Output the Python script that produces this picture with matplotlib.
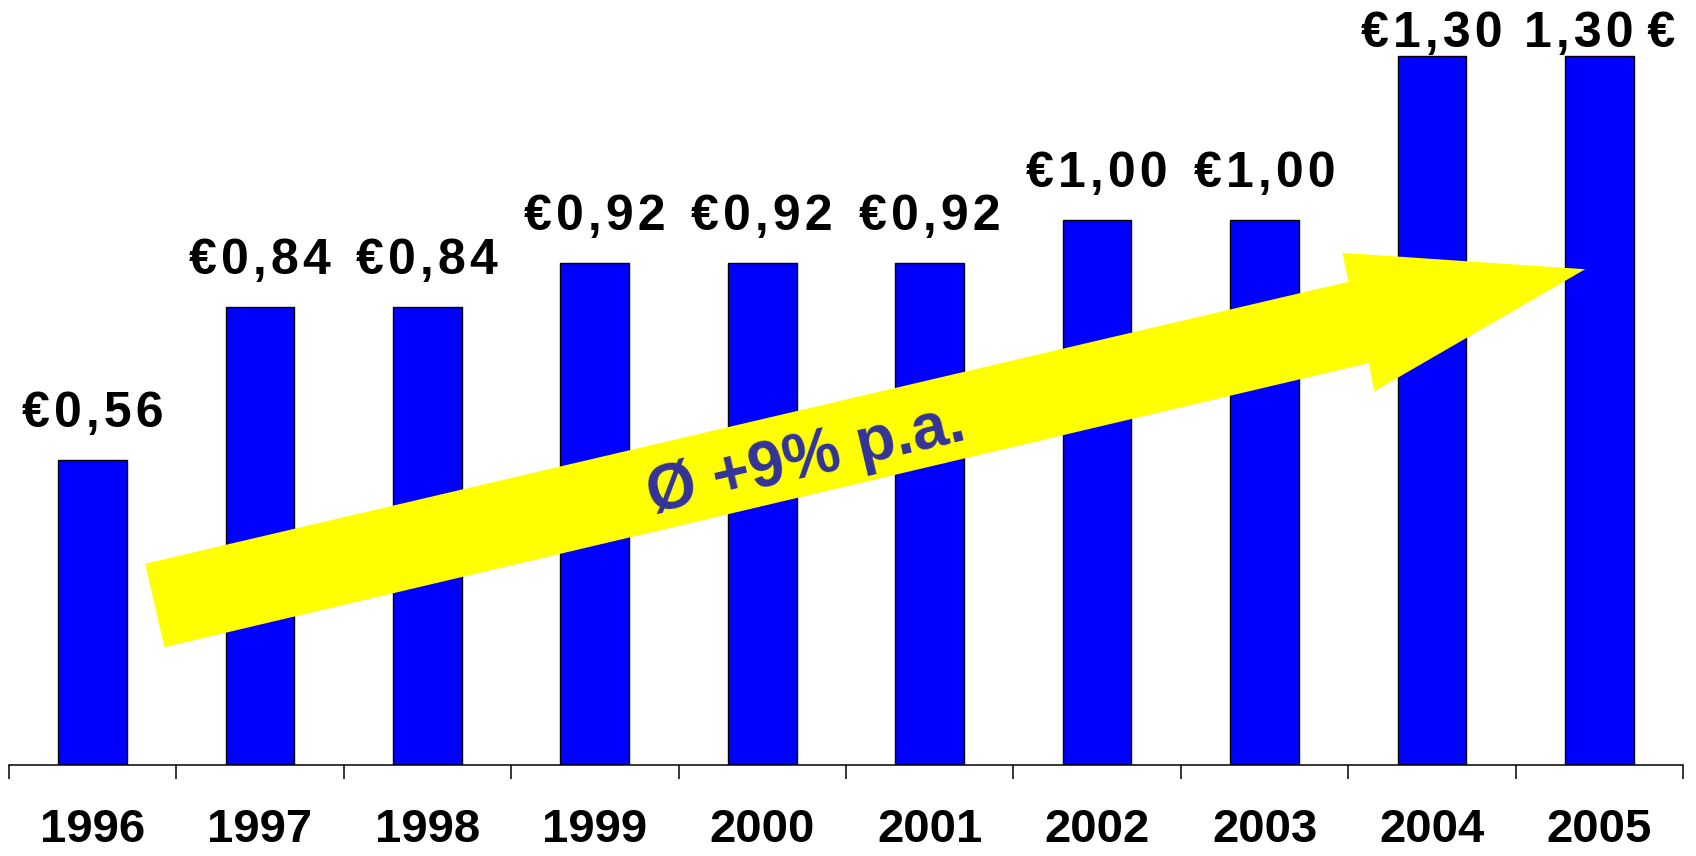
import numpy as np
import matplotlib.pyplot as plt

years = ["1996", "1997", "1998", "1999", "2000", "2001", "2002", "2003", "2004", "2005"]
dividend = [0.56, 0.84, 0.84, 0.92, 0.92, 0.92, 1.00, 1.00, 1.30, 1.30]
labels = ["€0,56", "€0,84", "€0,84", "€0,92", "€0,92", "€0,92",
          "€1,00", "€1,00", "€1,30", "1,30 €"]

# yellow growth arrow, in data units (x = category index, y = euro)
arrow_x = [0.315, 7.501, 7.465, 8.914, 7.654, 7.622, 0.430]
arrow_y = [0.369, 0.886, 0.939, 0.909, 0.685, 0.737, 0.216]
arrow_text = "Ø +9% p.a."

plt.rcParams['font.family'] = ['Liberation Sans', 'DejaVu Sans']

fig = plt.figure(figsize=(16.96, 8.56), dpi=100)
ax = fig.add_axes([0.0051, 0.1063, 0.9874, 0.8937])

x = np.arange(len(years))
ax.bar(x, dividend, width=0.41, color="#0000FF", edgecolor="black", linewidth=1.0, zorder=2)

# value labels are letter-spaced in the original, so put hair spaces between the characters
for xi, v, lab in zip(x, dividend, labels):
    spaced = "\u200a".join(lab.replace(" ", ""))
    if lab.endswith(" €"):
        spaced = spaced.replace("\u200a€", " €")
    ax.text(xi, min(v + 0.06, 1.317), spaced, ha="center", va="baseline",
            fontsize=36, fontweight="bold", color="black", zorder=4)

ax.fill(arrow_x, arrow_y, color="#FFFF00", zorder=3, linewidth=0)
ax.text(4.263, 0.559, arrow_text, rotation=13.2, rotation_mode="anchor",
        ha="center", va="center", fontsize=46, fontweight="bold",
        color="#333399", zorder=4)

ax.set_xlim(-0.5, 9.5)
ax.set_ylim(0, 1.4026)
for s in ["top", "right", "left"]:
    ax.spines[s].set_visible(False)
ax.spines["bottom"].set_linewidth(1.1)
ax.set_yticks([])

ax.set_xticks(np.arange(-0.5, 10, 1.0))
ax.set_xticklabels([])
ax.tick_params(axis="x", which="major", length=10, width=1.1, direction="out")
ax.set_xticks(x, minor=True)
ax.set_xticklabels(years, minor=True, fontsize=34, fontweight="bold")
ax.tick_params(axis="x", which="minor", length=0, pad=31)

fig.savefig("out.png", dpi=100)
